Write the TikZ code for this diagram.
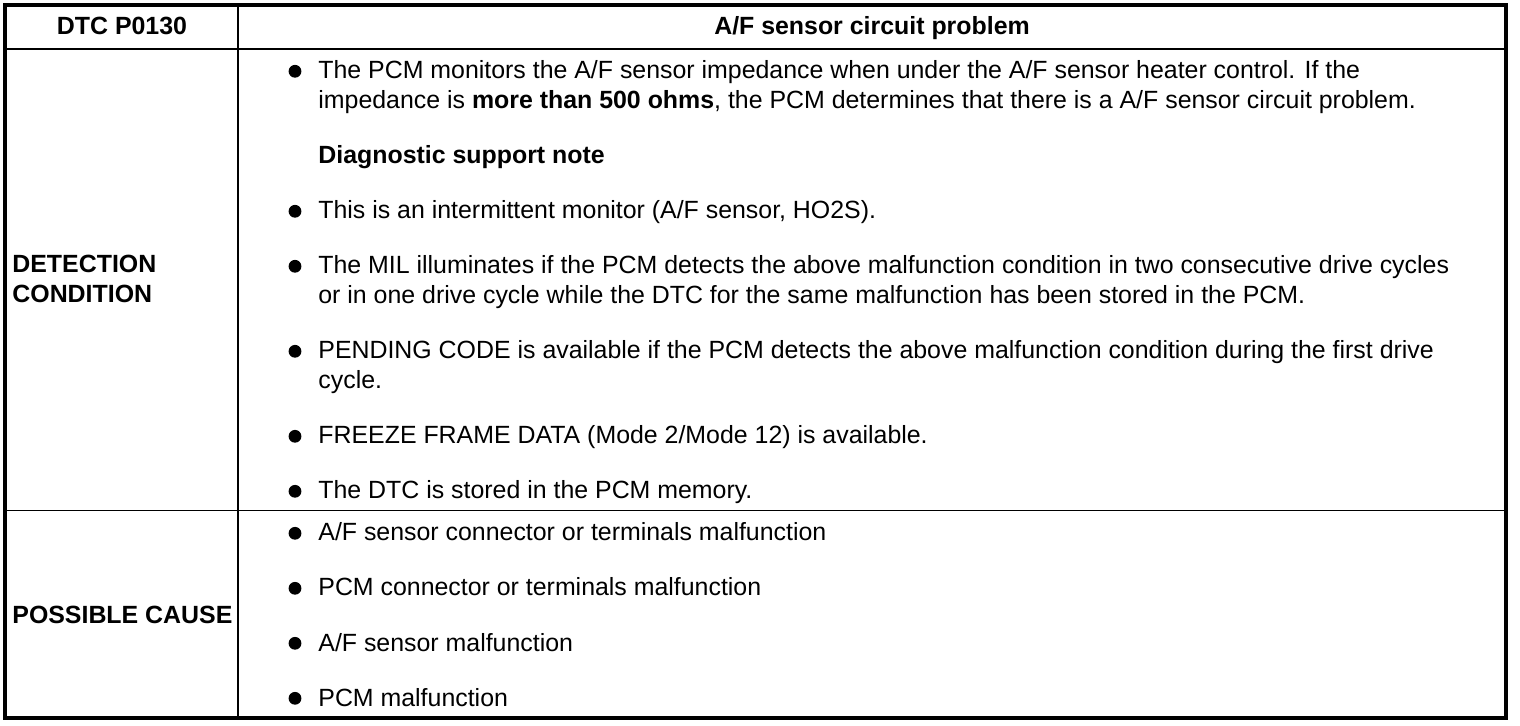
\documentclass[tikz,border=0pt]{standalone}
\usepackage{fontspec}
\setmainfont{Liberation Sans}
\begin{document}
\begin{tikzpicture}[x=0.5pt,y=-0.5pt,
  txt/.style={anchor=base west,inner sep=0pt,align=left,font=\fontsize{12.45}{15}\selectfont},
  hd/.style={anchor=base,inner sep=0pt,font=\fontsize{12.45}{15}\selectfont\bfseries},
  dot/.style={circle,fill,inner sep=0pt,minimum size=6.4pt}]
  \useasboundingbox (0,0) rectangle (1520,726);
  % frame and rules
  \draw[line width=2pt] (5,5) rectangle (1506,718);
  \draw[line width=1pt] (238,5) -- (238,718);
  \draw[line width=1pt] (5,49) -- (1506,49);
  \draw[line width=0.9pt] (5,510.5) -- (1506,510.5);

  % header
  \node[hd] (dtc) at (122,35) {DTC P0130};
  \node[hd] (title) at (872,35) {A/F sensor circuit problem};

  % left column (base = last line)
  \node[txt,font=\fontsize{12.45}{15}\selectfont\bfseries] (detect) at (12,303) {DETECTION\\CONDITION};
  \node[txt,font=\fontsize{12.45}{15}\selectfont\bfseries] (cause) at (12,623) {POSSIBLE CAUSE};

  % detection condition
  \node[dot] (d1) at (295,71.3) {};
  \node[txt] (monitor) at (318,109) {The PCM monitors the A/F sensor impedance when under the A/F sensor heater control. If the\\impedance is \textbf{more than 500 ohms}, the PCM determines that there is a A/F sensor circuit problem.};
  \node[txt] (note) at (318,164) {\textbf{Diagnostic support note}};
  \node[dot] (d2) at (295,211.3) {};
  \node[txt] (intermit) at (318,219) {This is an intermittent monitor (A/F sensor, HO2S).};
  \node[dot] (d3) at (295,266.3) {};
  \node[txt] (mil) at (318,304) {The MIL illuminates if the PCM detects the above malfunction condition in two consecutive drive cycles\\or in one drive cycle while the DTC for the same malfunction has been stored in the PCM.};
  \node[dot] (d4) at (295,351.3) {};
  \node[txt] (pending) at (318,389) {PENDING CODE is available if the PCM detects the above malfunction condition during the first drive\\cycle.};
  \node[dot] (d5) at (295,436.3) {};
  \node[txt] (freeze) at (318,444) {FREEZE FRAME DATA (Mode 2/Mode 12) is available.};
  \node[dot] (d6) at (295,491.3) {};
  \node[txt] (stored) at (318,499) {The DTC is stored in the PCM memory.};

  % possible cause
  \node[dot] (c1) at (295,533.3) {};
  \node[txt] (conn) at (318,541) {A/F sensor connector or terminals malfunction};
  \node[dot] (c2) at (295,588.3) {};
  \node[txt] (pcmconn) at (318,596) {PCM connector or terminals malfunction};
  \node[dot] (c3) at (295,643.3) {};
  \node[txt] (sensor) at (318,651) {A/F sensor malfunction};
  \node[dot] (c4) at (295,698.3) {};
  \node[txt] (pcm) at (318,706) {PCM malfunction};
\end{tikzpicture}
\end{document}
